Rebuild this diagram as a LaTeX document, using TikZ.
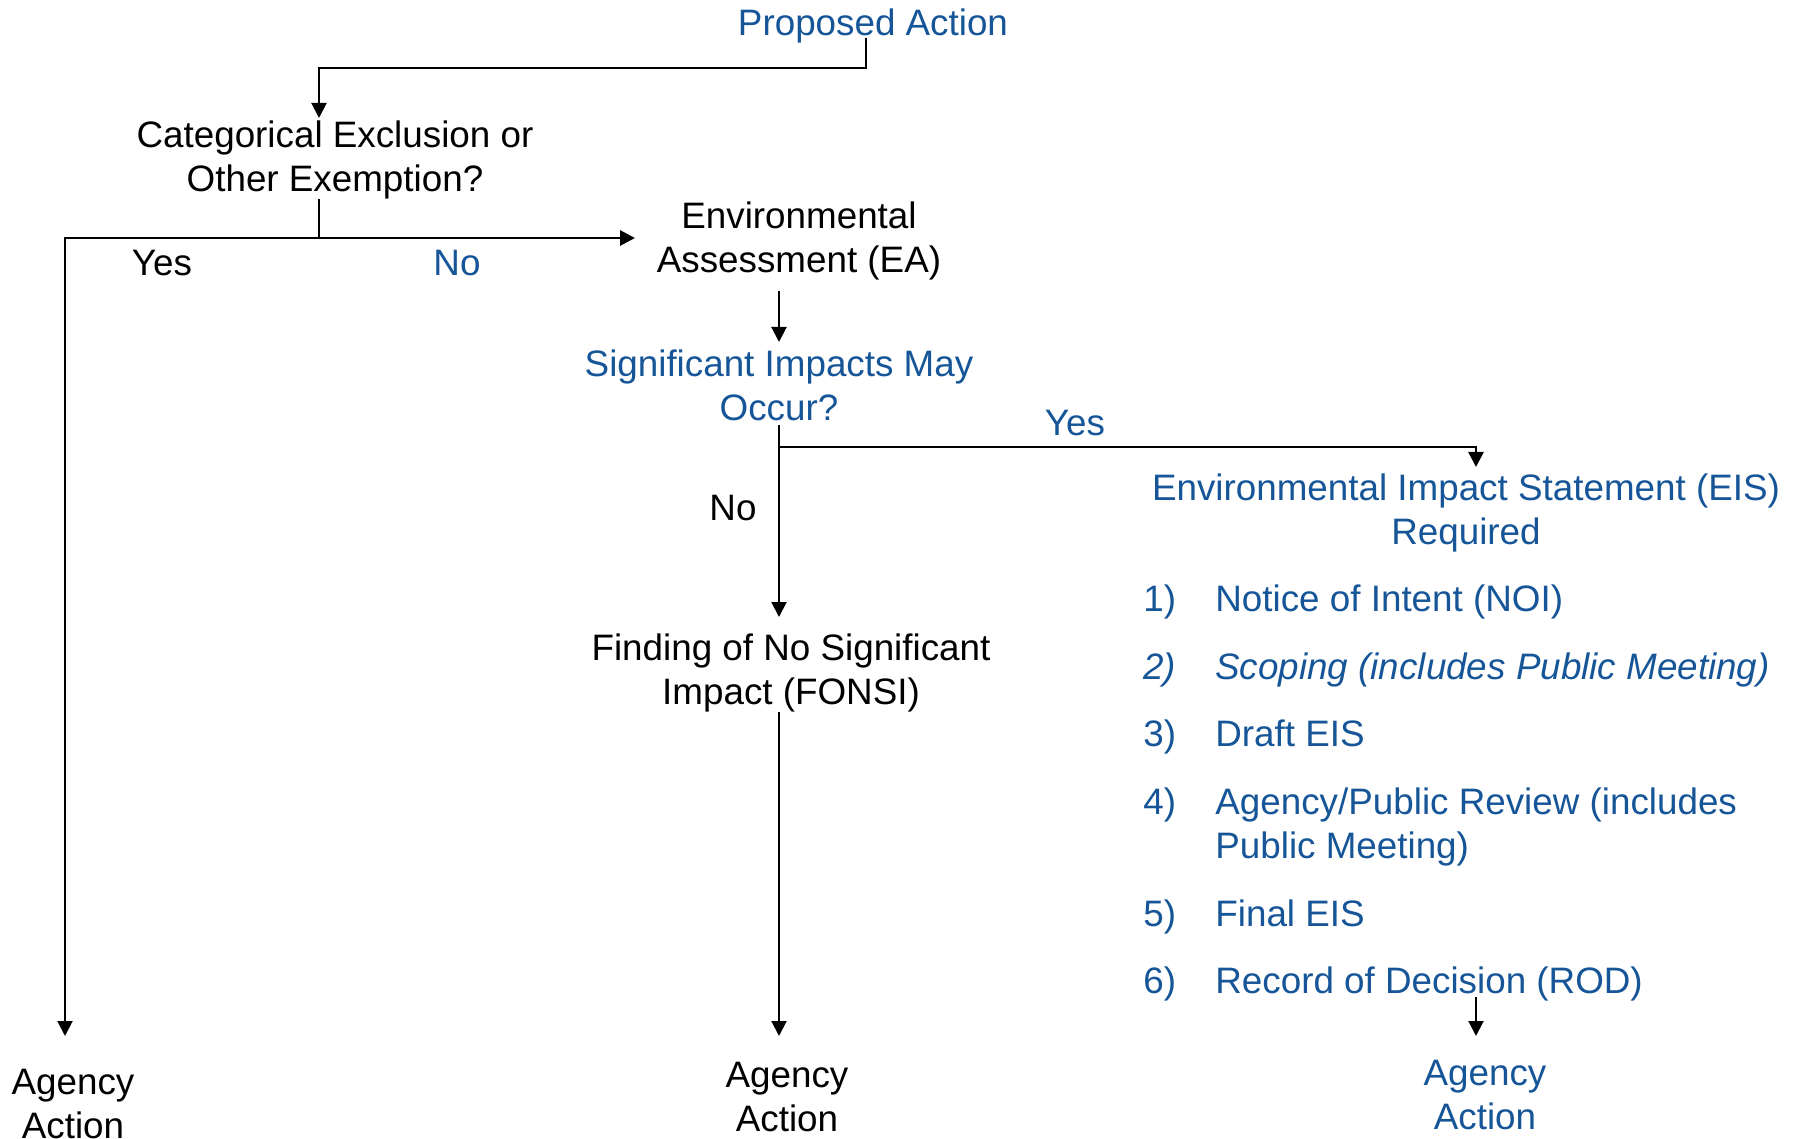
\documentclass[tikz,border=0pt]{standalone}
\usepackage{fontspec}
\setmainfont{Liberation Sans}
\usetikzlibrary{arrows.meta}
\definecolor{nepablue}{RGB}{22,86,152}

\begin{document}
\begin{tikzpicture}[x=0.5pt,y=-0.5pt,
  txt/.style={inner sep=0pt,font={\fontsize{18.4}{22}\selectfont},align=center},
  bluetxt/.style={txt,text=nepablue},
  flow/.style={line width=1pt,-{Triangle[length=7.5pt,width=7.5pt]}},
  link/.style={line width=1pt}]
\useasboundingbox[fill=white] (0,0) rectangle (1801,1139);

% decision nodes
\node[bluetxt,anchor=base] (pa) at (873,36) {Proposed Action};
\node[txt,anchor=north] (cat) at (335,120.5) {Categorical Exclusion or\\Other Exemption?};
\node[txt,anchor=north] (ea) at (799,201.5) {Environmental\\Assessment (EA)};
\node[bluetxt,anchor=north] (sig) at (779,349.5) {Significant Impacts May\\Occur?};
\node[txt,anchor=north] (fonsi) at (791,633.5) {Finding of No Significant\\Impact (FONSI)};
\node[bluetxt,anchor=north] (eis) at (1466,473.5) {Environmental Impact Statement (EIS)\\Required};

% branch labels
\node[txt,anchor=base] (yes1) at (162,276) {Yes};
\node[bluetxt,anchor=base] (no1) at (457,276) {No};
\node[bluetxt,anchor=base] (yes2) at (1075,436) {Yes};
\node[txt,anchor=base] (no2) at (733,520) {No};

% EIS steps
\node[bluetxt,anchor=base west] (n1) at (1143,611) {1)};
\node[bluetxt,anchor=base west] (s1) at (1215,611) {Notice of Intent (NOI)};
\node[bluetxt,anchor=base west] (n2) at (1143,679) {\itshape 2)};
\node[bluetxt,anchor=base west] (s2) at (1215,679) {\itshape Scoping (includes Public Meeting)};
\node[bluetxt,anchor=base west] (n3) at (1143,746) {3)};
\node[bluetxt,anchor=base west] (s3) at (1215,746) {Draft EIS};
\node[bluetxt,anchor=base west] (n4) at (1143,814) {4)};
\node[bluetxt,anchor=north west,align=left] (s4) at (1215,787.5) {Agency/Public Review (includes\\Public Meeting)};
\node[bluetxt,anchor=base west] (n5) at (1143,926) {5)};
\node[bluetxt,anchor=base west] (s5) at (1215,926) {Final EIS};
\node[bluetxt,anchor=base west] (n6) at (1143,993) {6)};
\node[bluetxt,anchor=base west] (s6) at (1215,993) {Record of Decision (ROD)};

% outcomes
\node[txt,anchor=north] (ag1) at (73,1068.5) {Agency\\Action};
\node[txt,anchor=north] (ag2) at (787,1061.5) {Agency\\Action};
\node[bluetxt,anchor=north] (ag3) at (1485,1059.5) {Agency\\Action};

% connector ends
\coordinate (paout) at (866,38);
\coordinate (bend1) at (319,68);
\coordinate (catin) at (319,118);
\coordinate (catout) at (319,199);
\coordinate (split1) at (319,238);
\coordinate (eain) at (635,238);
\coordinate (ag1in) at (65,1036);
\coordinate (eaout) at (779,291);
\coordinate (sigin) at (779,342);
\coordinate (sigout) at (779,425);
\coordinate (split2) at (779,447);
\coordinate (eisin) at (1476,467);
\coordinate (fonsiin) at (779,617);
\coordinate (fonsiout) at (779,712);
\coordinate (ag2in) at (779,1036);
\coordinate (rodout) at (1476,997);
\coordinate (ag3in) at (1476,1036);

\draw[flow] (paout) |- (bend1) -- (catin);
\draw[link] (catout) -- (split1);
\draw[flow,line width=1.4pt] (split1) -- (eain);
\draw[flow] (split1) -| (ag1in);
\draw[flow] (eaout) -- (sigin);
\draw[flow] (sigout) -- (fonsiin);
\draw[flow,line width=1.3pt] (split2) -| (eisin);
\draw[flow] (fonsiout) -- (ag2in);
\draw[flow] (rodout) -- (ag3in);
\end{tikzpicture}
\end{document}
